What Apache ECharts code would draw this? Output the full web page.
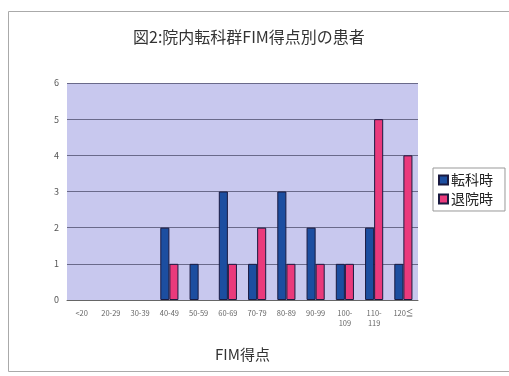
<!DOCTYPE html>
<html lang="ja">
<head>
<meta charset="UTF-8">
<title>図2</title>
<script src="https://cdn.jsdelivr.net/npm/echarts@6/dist/echarts.min.js"></script>
<style>
  html, body { margin: 0; padding: 0; background: #fff; }
  #main { width: 509px; height: 376px; }
</style>
</head>
<body>
<div id="main"></div>
<script>
  // 得点区分
  const categories = ['<20', '20-29', '30-39', '40-49', '50-59', '60-69', '70-79', '80-89', '90-99', '100-\n109', '110-\n119', '120≦'];
  // 患者数
  const tenkaData = [0, 0, 0, 2, 1, 3, 1, 3, 2, 1, 2, 1];
  const taiinData = [0, 0, 0, 1, 0, 1, 2, 1, 1, 1, 5, 4];
  const yTicks = [0, 1, 2, 3, 4, 5, 6];

  // 0件の棒は描かない
  const hideZero = arr => arr.map(v => (v === 0 ? '-' : v));

  const chart = echarts.init(document.getElementById('main'));

  const option = {
    backgroundColor: '#fff',
    animation: false,
    textStyle: { fontFamily: '"Noto Sans CJK JP", sans-serif' },
    title: {
      text: '図2:院内転科群FIM得点別の患者',
      left: 128,
      top: 24,
      textStyle: { fontSize: 16, fontWeight: 'normal', color: '#333' }
    },
    graphic: [{
      type: 'rect',
      shape: { x: 8.5, y: 11.5, width: 520, height: 360 },
      style: { fill: 'none', stroke: '#aaa', lineWidth: 1 },
      z: -1
    }],
    legend: {
      orient: 'vertical',
      left: 433,
      top: 168,
      itemWidth: 9,
      itemHeight: 9,
      itemGap: 5,
      padding: [5, 12, 5, 5],
      borderColor: '#999',
      borderWidth: 1,
      textStyle: { fontSize: 14, color: '#222', padding: [0, 0, 0, -2] },
      data: [
        { name: '転科時', icon: 'rect' },
        { name: '退院時', icon: 'rect' }
      ]
    },
    grid: {
      left: 67,
      right: 91,
      top: 83,
      bottom: 76,
      show: true,
      backgroundColor: '#c8c8ee',
      borderWidth: 0
    },
    xAxis: {
      type: 'category',
      data: categories,
      name: 'FIM得点',
      nameLocation: 'middle',
      nameGap: 47,
      nameTextStyle: { fontSize: 15, color: '#333' },
      axisTick: { show: false },
      axisLine: { lineStyle: { color: '#666', width: 1 } },
      axisLabel: { interval: 0, fontSize: 7.5, color: '#666', lineHeight: 10, margin: 8 }
    },
    yAxis: {
      type: 'value',
      min: 0,
      max: yTicks[yTicks.length - 1],
      interval: 1,
      axisLine: { show: false },
      axisTick: { show: false },
      axisLabel: { fontSize: 9, color: '#555', margin: 8 },
      splitLine: { lineStyle: { color: '#6a6a8a', width: 1 } }
    },
    series: [
      {
        name: '転科時',
        type: 'bar',
        data: hideZero(tenkaData),
        barGap: '0%',
        barCategoryGap: '38%',
        itemStyle: { color: '#1c4ea0', borderColor: '#1a1a40', borderWidth: 1 }
      },
      {
        name: '退院時',
        type: 'bar',
        data: hideZero(taiinData),
        itemStyle: { color: '#ea3a7c', borderColor: '#1a1a40', borderWidth: 1 }
      }
    ]
  };

  chart.setOption(option);
</script>
</body>
</html>
